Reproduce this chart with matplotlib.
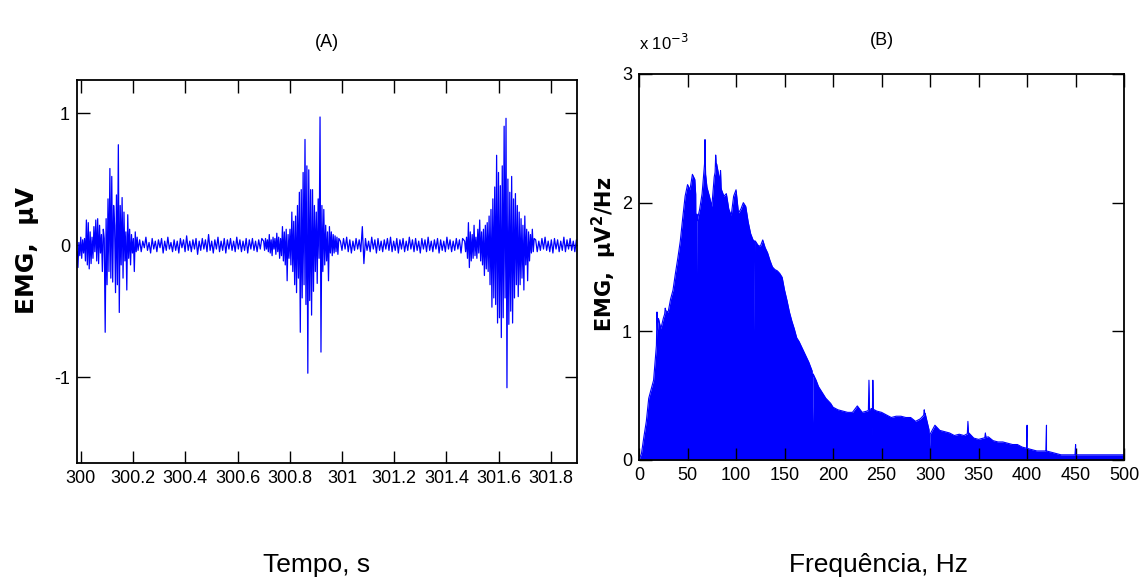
import numpy as np
import matplotlib
matplotlib.use("Agg")
import matplotlib.pyplot as plt

# ---- data: EMG trace (A), stored as segments (start time, step, values in uV)
burst1_start, burst1_dt = 299.985, 0.0036
burst1 = [-0.05, -0.17, 0.02, -0.08, 0.06, -0.10, 0.04, -0.06, 0.05, -0.12,
          0.19, -0.15, 0.17, -0.18, 0.10, -0.14, 0.06, -0.10, 0.14, -0.05,
          0.19, -0.12, 0.20, -0.14, 0.15, -0.06, 0.08, -0.20, 0.12, 0.05,
          -0.66, 0.20, -0.30, 0.35, -0.20, 0.58, -0.25, 0.52, -0.28, 0.30,
          0.15, -0.36, 0.38, -0.30, 0.76, -0.51, 0.30, -0.15, 0.36, -0.25,
          0.25, -0.12, 0.10, -0.34, 0.23, -0.10, 0.12, -0.15, 0.08, -0.06,
          0.05, -0.20, 0.10, -0.05, 0.06, -0.04]

base1_start, base1_dt = 300.225, 0.006
base1 = [0.04, -0.05, 0.03, -0.02, 0.06, -0.04, 0.02, -0.06, 0.05, -0.03,
         0.03, -0.05, 0.04, -0.02, 0.05, -0.06, 0.03, -0.04, 0.06, -0.03,
         0.02, -0.05, 0.04, -0.04, 0.03, -0.06, 0.05, -0.02, 0.04, -0.05,
         0.07, -0.04, 0.03, -0.05, 0.04, -0.03, 0.05, -0.07, 0.03, -0.04,
         0.05, -0.03, 0.04, -0.05, 0.08, -0.04, 0.03, -0.06, 0.04, -0.03,
         0.06, -0.05, 0.03, -0.04, 0.05, -0.06, 0.04, -0.03, 0.05, -0.04,
         0.03, -0.05, 0.06, -0.03, 0.04, -0.05, 0.03, -0.04, 0.05, -0.06,
         0.04, -0.03, 0.05, -0.04, 0.03, -0.05, 0.04, -0.03, 0.05]

burst2_start, burst2_dt = 300.70, 0.0036
burst2 = [0.03, -0.04, 0.05, -0.03, 0.04, -0.05, 0.08, -0.06, 0.04, -0.08,
          0.06, -0.03, 0.05, -0.07, 0.09, -0.05, 0.06, -0.10, 0.05, -0.08,
          0.14, -0.12, 0.10, -0.15, 0.12, -0.27, 0.08, -0.10, 0.12, -0.15,
          0.25, -0.20, 0.18, -0.30, 0.22, -0.36, 0.30, -0.25, 0.40, -0.66,
          0.42, -0.40, 0.55, -0.30, 0.80, -0.45, 0.60, -0.97, 0.57, -0.42,
          0.42, -0.53, 0.42, -0.35, 0.30, -0.20, 0.25, -0.29, 0.35, -0.10,
          0.97, -0.81, 0.30, -0.20, 0.27, -0.15, 0.15, -0.12, 0.10, -0.27,
          0.14, -0.06, 0.10, -0.08, 0.08, -0.06, 0.07, -0.05, 0.06, -0.07, 0.05]

base2_start, base2_dt = 300.994, 0.006
base2 = [0.03, -0.04, 0.05, -0.03, 0.06, -0.05, 0.04, -0.06, 0.03, -0.04,
         0.05, -0.03, 0.04, -0.05, 0.14, -0.14, 0.05, -0.04, 0.03, -0.05,
         0.06, -0.03, 0.04, -0.06, 0.05, -0.04, 0.03, -0.05, 0.04, -0.03,
         0.05, -0.04, 0.06, -0.05, 0.03, -0.04, 0.05, -0.06, 0.04, -0.03,
         0.05, -0.05, 0.03, -0.04, 0.06, -0.03, 0.04, -0.05, 0.05, -0.04,
         0.03, -0.06, 0.05, -0.03, 0.04, -0.05, 0.06, -0.04, 0.03, -0.05,
         0.04, -0.03, 0.05, -0.06, 0.04, -0.04, 0.03, -0.05, 0.06, -0.03,
         0.04, -0.05, 0.03, -0.04, 0.05, -0.03, 0.04, -0.06, 0.05]

burst3_start, burst3_dt = 301.47, 0.0036
burst3 = [0.03, -0.05, 0.06, -0.10, 0.17, -0.17, 0.10, -0.12, 0.08, -0.10,
          0.15, -0.08, 0.06, -0.10, 0.12, -0.06, 0.19, -0.12, 0.10, -0.15,
          0.12, -0.23, 0.15, -0.18, 0.17, -0.20, 0.22, -0.30, 0.27, -0.47,
          0.35, -0.40, 0.44, -0.45, 0.68, -0.59, 0.55, -0.55, 0.45, -0.70,
          0.60, -0.55, 0.90, -0.40, 0.96, -1.08, 0.50, -0.60, 0.40, -0.50,
          0.52, -0.59, 0.35, -0.40, 0.39, -0.30, 0.30, -0.39, 0.25, -0.30,
          0.20, -0.25, 0.15, -0.34, 0.22, -0.15, 0.12, -0.27, 0.10, -0.12,
          0.08, -0.06, 0.12, -0.05, 0.05]

base3_start, base3_dt = 301.742, 0.006
base3 = [0.04, -0.05, 0.03, -0.04, 0.05, -0.03, 0.06, -0.04, 0.03, -0.05,
         0.04, -0.06, 0.05, -0.03, 0.04, -0.05, 0.03, -0.04, 0.06, -0.05,
         0.04, -0.03, 0.05, -0.04, 0.03, -0.05, 0.04, -0.03]

time_ticks = [300, 300.2, 300.4, 300.6, 300.8, 301, 301.2, 301.4, 301.6, 301.8]
time_labels = ["300", "300.2", "300.4", "300.6", "300.8", "301",
               "301.2", "301.4", "301.6", "301.8"]

# ---- data: power spectrum (B), values in units of 1e-3 uV^2/Hz
freq_lo_step = 2.5   # 0..200 Hz
psd_lo = [0.0, 0.05, 0.18, 0.30, 0.48, 0.55, 0.62, 0.85, 1.10, 1.02,
          1.10, 1.16, 1.15, 1.25, 1.32, 1.45, 1.57, 1.70, 1.88, 2.05,
          2.14, 2.10, 2.22, 2.18, 1.86, 1.95, 2.07, 2.30, 2.12, 2.05,
          1.97, 2.20, 2.30, 2.20, 2.10, 2.05, 2.07, 1.95, 1.90, 2.05,
          2.10, 1.92, 1.95, 2.00, 1.97, 1.85, 1.76, 1.71, 1.70, 1.67,
          1.66, 1.71, 1.65, 1.61, 1.55, 1.50, 1.48, 1.47, 1.45, 1.42,
          1.32, 1.24, 1.15, 1.08, 1.02, 0.95, 0.92, 0.88, 0.84, 0.80,
          0.76, 0.71, 0.66, 0.62, 0.57, 0.54, 0.51, 0.48, 0.46, 0.44, 0.41]
freq_hi_step = 5.0   # 205..500 Hz
psd_hi = [0.39, 0.38, 0.37, 0.37, 0.42, 0.37, 0.38, 0.40, 0.38, 0.37,
          0.35, 0.33, 0.34, 0.34, 0.33, 0.33, 0.30, 0.32, 0.36, 0.20,
          0.27, 0.23, 0.22, 0.21, 0.19, 0.20, 0.19, 0.21, 0.17, 0.16,
          0.17, 0.18, 0.15, 0.14, 0.14, 0.13, 0.12, 0.12, 0.10, 0.09,
          0.08, 0.07, 0.07, 0.07, 0.06, 0.05, 0.04, 0.04, 0.04, 0.04,
          0.04, 0.04, 0.04, 0.04, 0.04, 0.04, 0.04, 0.04, 0.04, 0.04]
spike_freqs = [18.5, 27, 68, 79, 84, 237, 241, 294, 339, 357, 400, 420, 450]
spike_vals = [1.15, 1.18, 2.49, 2.37, 2.25, 0.62, 0.62, 0.39, 0.30, 0.21, 0.27, 0.27, 0.12]
notch_freqs = [59, 118.5, 179, 240, 299.5]
notch_vals = [1.15, 1.00, 0.29, 0.18, 0.10]
freq_ticks = [0, 50, 100, 150, 200, 250, 300, 350, 400, 450, 500]

# ---- build the trace
segments = [(burst1_start, burst1_dt, burst1), (base1_start, base1_dt, base1),
            (burst2_start, burst2_dt, burst2), (base2_start, base2_dt, base2),
            (burst3_start, burst3_dt, burst3), (base3_start, base3_dt, base3)]
t = np.concatenate([s + d * np.arange(len(v)) for s, d, v in segments])
emg = np.concatenate([np.array(v) for s, d, v in segments])

# ---- build the spectrum outline (envelope + narrow spikes/notches)
f_env = np.concatenate([freq_lo_step * np.arange(len(psd_lo)),
                        200 + freq_hi_step * np.arange(1, len(psd_hi) + 1)])
p_env = np.array(psd_lo + psd_hi)
f_all = list(f_env)
p_all = list(p_env)
for f0, v0 in list(zip(spike_freqs, spike_vals)) + list(zip(notch_freqs, notch_vals)):
    for df in (-0.6, 0.6):
        f_all.append(f0 + df)
        p_all.append(np.interp(f0 + df, f_env, p_env))
    f_all.append(f0)
    p_all.append(v0)
order = np.argsort(f_all)
f_all = np.array(f_all)[order]
p_all = np.array(p_all)[order]

plt.rcParams['font.family'] = ['Liberation Sans', 'DejaVu Sans']
plt.rcParams['xtick.direction'] = 'in'
plt.rcParams['ytick.direction'] = 'in'

fig = plt.figure(figsize=(11.44, 5.87), dpi=100)
ax1 = fig.add_axes([0.0673, 0.2112, 0.437, 0.6525])
ax2 = fig.add_axes([0.5586, 0.2164, 0.424, 0.6576])

# panel A
ax1.plot(t, emg, color='blue', lw=0.9)
ax1.set_xlim(299.985, 301.900)
ax1.set_ylim(-1.65, 1.25)
ax1.set_xticks(time_ticks)
ax1.set_xticklabels(time_labels)
ax1.set_yticks([-1, 0, 1])
ax1.set_yticklabels(["-1", "0", "1"])
ax1.set_title("(A)", fontsize=13, pad=24)

# panel B
ax2.fill_between(f_all, 0, p_all, color='blue', lw=0)
ax2.plot(f_all, p_all, color='blue', lw=0.8)
ax2.set_xlim(0, 500)
ax2.set_ylim(0, 3)
ax2.set_xticks(freq_ticks)
ax2.set_yticks([0, 1, 2, 3])
ax2.set_title("(B)", fontsize=13, pad=21)
ax2.text(0.0, 1.08, "x 10$^{-3}$", transform=ax2.transAxes, fontsize=12,
         va='center')

for ax in (ax1, ax2):
    ax.tick_params(top=True, right=True, length=9, width=1, labelsize=13, pad=5)
    for sp in ax.spines.values():
        sp.set_linewidth(1.3)

fig.text(0.024, 0.574, "EMG,  \u03bcV", rotation=90, fontsize=18,
         fontweight='bold', family='DejaVu Sans', ha='center', va='center')
fig.text(0.528, 0.567, "EMG,  \u03bcV$^\\mathbf{2}$/Hz", rotation=90, fontsize=15,
         fontweight='bold', family='DejaVu Sans', ha='center', va='center')
fig.text(0.277, 0.037, "Tempo, s", fontsize=19, ha='center', va='center')
fig.text(0.768, 0.037, "Frequ\u00eancia, Hz", fontsize=19, ha='center', va='center')

fig.savefig("out.png", dpi=100)
